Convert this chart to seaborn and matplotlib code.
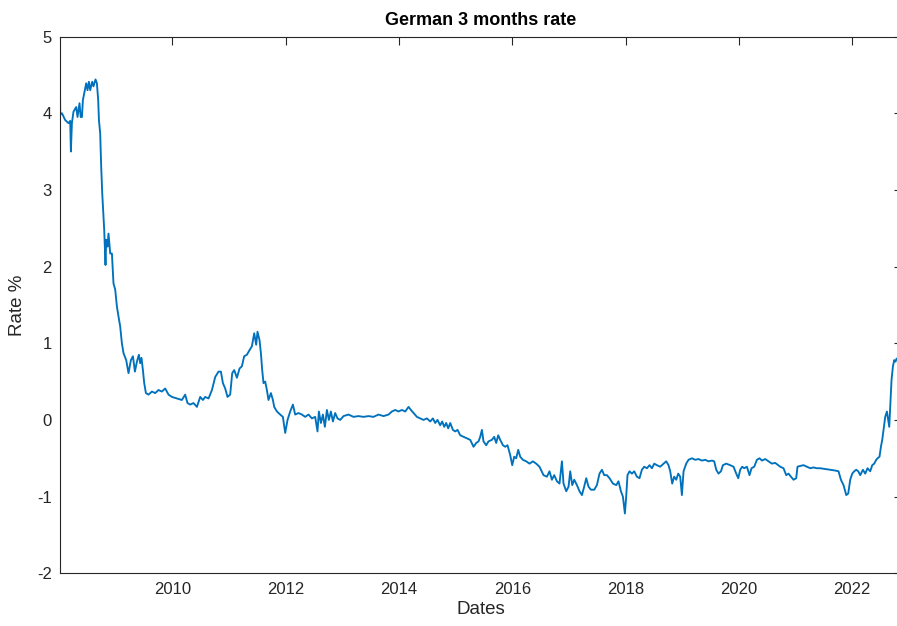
import matplotlib
matplotlib.use("Agg")
import matplotlib.pyplot as plt
import numpy as np
import pandas as pd
import seaborn as sns

# Observation dates (decimal years) and German 3-month rate (%)
dates = [
    2008.020, 2008.024, 2008.054, 2008.112, 2008.170, 2008.200, 2008.212, 2008.230,
    2008.258, 2008.306, 2008.329, 2008.364, 2008.385, 2008.407, 2008.424, 2008.447,
    2008.482, 2008.505, 2008.530, 2008.553, 2008.588, 2008.611, 2008.647, 2008.671,
    2008.694, 2008.707, 2008.729, 2008.747, 2008.765, 2008.788, 2008.800, 2008.823,
    2008.835, 2008.858, 2008.876, 2008.906, 2008.936, 2008.964, 2008.994, 2009.024,
    2009.052, 2009.082, 2009.112, 2009.141, 2009.188, 2009.229, 2009.271, 2009.307,
    2009.342, 2009.377, 2009.412, 2009.435, 2009.458, 2009.483, 2009.506, 2009.536,
    2009.582, 2009.642, 2009.700, 2009.758, 2009.818, 2009.876, 2009.935, 2009.995,
    2010.083, 2010.171, 2010.229, 2010.270, 2010.318, 2010.376, 2010.436, 2010.494,
    2010.542, 2010.582, 2010.641, 2010.701, 2010.759, 2010.817, 2010.859, 2010.895,
    2010.935, 2010.976, 2011.023, 2011.059, 2011.094, 2011.142, 2011.188, 2011.230,
    2011.270, 2011.318, 2011.364, 2011.406, 2011.447, 2011.482, 2011.505, 2011.541,
    2011.565, 2011.588, 2011.611, 2011.641, 2011.671, 2011.699, 2011.742, 2011.777,
    2011.800, 2011.848, 2011.906, 2011.953, 2011.994, 2012.035, 2012.082, 2012.130,
    2012.170, 2012.229, 2012.288, 2012.347, 2012.405, 2012.465, 2012.523, 2012.564,
    2012.588, 2012.624, 2012.659, 2012.694, 2012.730, 2012.765, 2012.800, 2012.836,
    2012.876, 2012.917, 2012.964, 2013.023, 2013.111, 2013.199, 2013.287, 2013.376,
    2013.464, 2013.552, 2013.640, 2013.729, 2013.817, 2013.877, 2013.936, 2013.993,
    2014.053, 2014.112, 2014.170, 2014.212, 2014.258, 2014.318, 2014.376, 2014.434,
    2014.494, 2014.553, 2014.600, 2014.641, 2014.681, 2014.729, 2014.764, 2014.800,
    2014.835, 2014.870, 2014.906, 2014.953, 2014.994, 2015.035, 2015.082, 2015.141,
    2015.201, 2015.259, 2015.317, 2015.365, 2015.405, 2015.435, 2015.465, 2015.493,
    2015.541, 2015.581, 2015.641, 2015.682, 2015.717, 2015.753, 2015.788, 2015.836,
    2015.876, 2015.917, 2015.965, 2016.000, 2016.035, 2016.070, 2016.106, 2016.141,
    2016.188, 2016.247, 2016.305, 2016.365, 2016.423, 2016.481, 2016.552, 2016.612,
    2016.658, 2016.700, 2016.741, 2016.789, 2016.834, 2016.877, 2016.905, 2016.953,
    2016.994, 2017.023, 2017.059, 2017.094, 2017.142, 2017.187, 2017.230, 2017.270,
    2017.306, 2017.346, 2017.388, 2017.447, 2017.494, 2017.540, 2017.583, 2017.623,
    2017.671, 2017.717, 2017.777, 2017.836, 2017.875, 2017.918, 2017.953, 2017.988,
    2018.011, 2018.034, 2018.070, 2018.112, 2018.153, 2018.200, 2018.246, 2018.288,
    2018.329, 2018.377, 2018.423, 2018.465, 2018.506, 2018.553, 2018.611, 2018.670,
    2018.717, 2018.758, 2018.788, 2018.823, 2018.858, 2018.894, 2018.929, 2018.964,
    2018.994, 2019.023, 2019.070, 2019.111, 2019.171, 2019.229, 2019.287, 2019.347,
    2019.405, 2019.464, 2019.524, 2019.564, 2019.600, 2019.640, 2019.683, 2019.718,
    2019.776, 2019.847, 2019.905, 2019.953, 2019.988, 2020.023, 2020.058, 2020.094,
    2020.141, 2020.187, 2020.223, 2020.270, 2020.318, 2020.364, 2020.406, 2020.464,
    2020.522, 2020.582, 2020.640, 2020.729, 2020.787, 2020.835, 2020.875, 2020.918,
    2020.964, 2021.011, 2021.034, 2021.082, 2021.140, 2021.200, 2021.258, 2021.317,
    2021.376, 2021.435, 2021.523, 2021.611, 2021.699, 2021.758, 2021.800, 2021.846,
    2021.894, 2021.929, 2021.964, 2022.000, 2022.035, 2022.070, 2022.106, 2022.141,
    2022.188, 2022.229, 2022.270, 2022.317, 2022.353, 2022.388, 2022.423, 2022.446,
    2022.481, 2022.506, 2022.529, 2022.552, 2022.582, 2022.612, 2022.635, 2022.653,
    2022.670, 2022.693, 2022.718, 2022.741, 2022.764, 2022.782,
]
rates = [
    4.28, 3.98, 4.00, 3.91, 3.87, 3.90, 3.50, 3.87,
    4.02, 4.08, 3.95, 4.13, 3.95, 3.95, 4.17, 4.26,
    4.39, 4.30, 4.41, 4.30, 4.41, 4.35, 4.44, 4.39,
    4.17, 3.91, 3.74, 3.30, 2.96, 2.65, 2.48, 2.02,
    2.35, 2.26, 2.43, 2.17, 2.17, 1.78, 1.70, 1.48,
    1.35, 1.22, 1.00, 0.87, 0.78, 0.61, 0.78, 0.83,
    0.63, 0.76, 0.85, 0.74, 0.81, 0.65, 0.48, 0.35,
    0.33, 0.37, 0.35, 0.39, 0.37, 0.41, 0.33, 0.30,
    0.28, 0.26, 0.33, 0.22, 0.20, 0.22, 0.17, 0.30,
    0.26, 0.30, 0.28, 0.39, 0.56, 0.63, 0.63, 0.48,
    0.41, 0.30, 0.33, 0.61, 0.65, 0.55, 0.67, 0.70,
    0.83, 0.85, 0.91, 0.96, 1.13, 0.98, 1.15, 1.04,
    0.87, 0.65, 0.48, 0.50, 0.39, 0.26, 0.35, 0.26,
    0.17, 0.11, 0.07, 0.04, -0.17, 0.00, 0.11, 0.20,
    0.07, 0.09, 0.07, 0.04, 0.07, 0.02, 0.04, -0.15,
    0.11, -0.04, 0.07, -0.09, 0.13, 0.00, 0.11, -0.02,
    0.09, 0.02, 0.00, 0.05, 0.07, 0.04, 0.05, 0.04,
    0.05, 0.04, 0.07, 0.05, 0.07, 0.11, 0.13, 0.11,
    0.13, 0.11, 0.17, 0.13, 0.09, 0.04, 0.02, 0.00,
    0.02, -0.02, 0.02, -0.04, 0.00, -0.07, -0.02, -0.09,
    -0.04, -0.11, -0.04, -0.13, -0.15, -0.13, -0.20, -0.22,
    -0.24, -0.26, -0.35, -0.30, -0.28, -0.22, -0.13, -0.28,
    -0.33, -0.28, -0.26, -0.22, -0.30, -0.20, -0.26, -0.33,
    -0.35, -0.33, -0.46, -0.59, -0.48, -0.50, -0.39, -0.48,
    -0.52, -0.54, -0.57, -0.54, -0.57, -0.61, -0.72, -0.74,
    -0.67, -0.78, -0.72, -0.80, -0.83, -0.54, -0.83, -0.93,
    -0.87, -0.67, -0.85, -0.78, -0.85, -0.93, -0.98, -0.87,
    -0.76, -0.87, -0.91, -0.91, -0.85, -0.70, -0.65, -0.72,
    -0.72, -0.76, -0.83, -0.85, -0.80, -0.93, -1.00, -1.22,
    -1.00, -0.72, -0.67, -0.70, -0.67, -0.74, -0.76, -0.65,
    -0.61, -0.63, -0.59, -0.63, -0.57, -0.59, -0.61, -0.57,
    -0.54, -0.59, -0.67, -0.83, -0.74, -0.78, -0.70, -0.74,
    -0.98, -0.67, -0.57, -0.52, -0.50, -0.52, -0.51, -0.53,
    -0.52, -0.54, -0.53, -0.54, -0.65, -0.70, -0.67, -0.59,
    -0.57, -0.59, -0.61, -0.70, -0.76, -0.65, -0.61, -0.63,
    -0.61, -0.72, -0.63, -0.61, -0.52, -0.50, -0.53, -0.51,
    -0.54, -0.57, -0.56, -0.61, -0.63, -0.72, -0.70, -0.74,
    -0.78, -0.76, -0.61, -0.60, -0.59, -0.61, -0.63, -0.62,
    -0.63, -0.63, -0.64, -0.65, -0.66, -0.67, -0.78, -0.85,
    -0.98, -0.96, -0.78, -0.70, -0.67, -0.65, -0.67, -0.72,
    -0.65, -0.70, -0.63, -0.67, -0.59, -0.57, -0.52, -0.50,
    -0.48, -0.35, -0.26, -0.13, 0.04, 0.11, 0.00, -0.09,
    0.17, 0.52, 0.70, 0.78, 0.76, 0.80,
]

year_ticks = [2010, 2012, 2014, 2016, 2018, 2020, 2022]
rate_ticks = [-2, -1, 0, 1, 2, 3, 4, 5]

df = pd.DataFrame({"Dates": dates, "Rate": rates})

sns.set_theme(style="white")
plt.rcParams["font.family"] = ["Liberation Sans", "DejaVu Sans"]

axis_color = "#262626"
fig = plt.figure(figsize=(8.97, 6.26), dpi=100)
ax = fig.add_axes([60 / 897, 1 - 573.3 / 626, 842 / 897, (573.3 - 36.5) / 626])

sns.lineplot(data=df, x="Dates", y="Rate", ax=ax, color="#0072BD",
             linewidth=1.35, estimator=None, sort=False)

ax.set_xlim(2008.02, 2008.02 + 842 / 56.67)
ax.set_ylim(-2, 5)
ax.set_xticks(year_ticks)
ax.set_xticklabels([str(y) for y in year_ticks])
ax.set_yticks(rate_ticks)
ax.set_yticklabels([str(r) for r in rate_ticks])

for side in ["left", "right", "top", "bottom"]:
    ax.spines[side].set_visible(True)
    ax.spines[side].set_color(axis_color)
    ax.spines[side].set_linewidth(0.8)

ax.tick_params(axis="both", which="major", direction="in", length=5.8,
               width=0.8, color=axis_color, labelcolor=axis_color,
               labelsize=12, top=True, right=True, pad=6)
ax.grid(False)

ax.set_title("German 3 months rate", fontsize=13, fontweight="bold",
             color="black", pad=8)
ax.set_xlabel("Dates", fontsize=13.5, color=axis_color, labelpad=3)
ax.set_ylabel("Rate %", fontsize=13.5, color=axis_color, labelpad=8)

fig.savefig("out.png", dpi=100)
